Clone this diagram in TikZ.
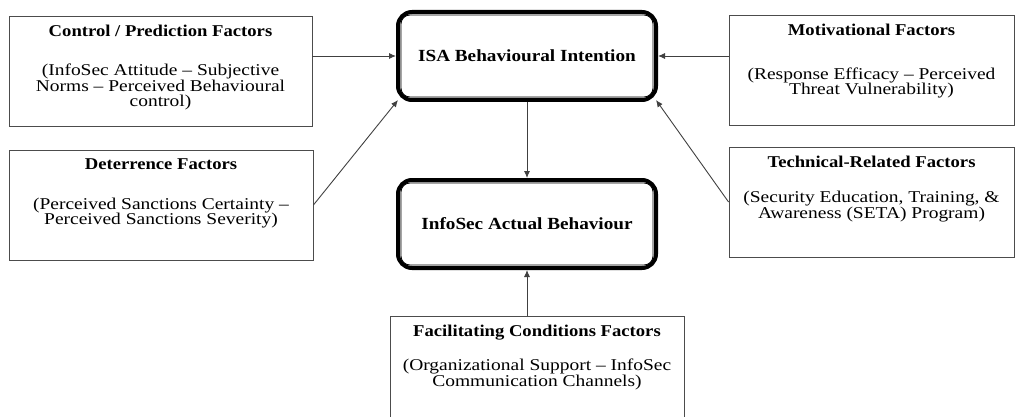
\documentclass[tikz,border=0pt]{standalone}
\usepackage{fontspec}
\setmainfont{Liberation Serif}[FakeStretch=1.18, BoldFeatures={FakeStretch=1.13}]
\usetikzlibrary{positioning}
\usetikzlibrary{arrows.meta}

\tikzset{
  factor/.style={draw=black!70, line width=0.9pt, minimum width=#1, minimum height=110pt, inner sep=0pt},
  factor/.default=300pt,
  factortext/.style={align=center, inner sep=0pt, font=\fontsize{16.5}{15.5}\selectfont},
  central/.style={draw, line width=4pt, rounded corners=14pt, minimum width=258pt, minimum height=88pt,
    font=\fontsize{17}{15}\selectfont\bfseries},
  link/.style={draw=black!75, line width=0.9pt, -{Latex[length=7pt,width=6pt]}}
}

\begin{document}
\begin{tikzpicture}[x=1pt, y=1pt]
    \useasboundingbox (0,0) rectangle (1022,-417);
    \clip (0,0) rectangle (1022,-417);

    % Central constructs
    \node[central] (isa) at (527,-56) {ISA Behavioural Intention};
    \node[central] (act) at (527,-224) {InfoSec Actual Behaviour};
    \foreach \n in {isa,act}
      \draw[line width=0.8pt, rounded corners=9pt]
        ([shift={(5pt,5pt)}]\n.south west) rectangle ([shift={(-5pt,-5pt)}]\n.north east);

    % Factor boxes
    \node[factor=303pt] (ctrl) at (160.5,-71) {};
    \node[factor=285pt] (moti) at (871.5,-70.5) {};
    \node[factor=304pt] (dete) at (161,-205) {};
    \node[factor=285pt] (tech) at (871.5,-202) {};
    \node[factor=294pt, minimum height=130pt] (faci) at (537,-381) {};

    \node[factortext, below=9pt of ctrl.north] (ctrl-t)
      {\textbf{Control / Prediction Factors}\\[24pt]
       (InfoSec Attitude -- Subjective\\ Norms -- Perceived Behavioural\\ control)};
    \node[factortext, below=9pt of moti.north] (moti-t)
      {\textbf{Motivational Factors}\\[28pt]
       (Response Efficacy -- Perceived\\ Threat Vulnerability)};
    \node[factortext, below=9pt of dete.north] (dete-t)
      {\textbf{Deterrence Factors}\\[24pt]
       (Perceived Sanctions Certainty --\\ Perceived Sanctions Severity)};
    \node[factortext, below=9pt of tech.north] (tech-t)
      {\textbf{Technical-Related Factors}\\[20pt]
       (Security Education, Training, \&\\ Awareness (SETA) Program)};
    \node[factortext, below=9pt of faci.north] (faci-t)
      {\textbf{Facilitating Conditions Factors}\\[19pt]
       (Organizational Support -- InfoSec\\ Communication Channels)};

    % Links
    \path[link] (ctrl.east |- isa.west) -- (isa.west);
    \path[link] (moti.west |- isa.east) -- (isa.east);
    \path[link] (dete.east) -- ([shift={(2pt,2pt)}]isa.south west);
    \path[link] (tech.west) -- ([shift={(-2pt,2pt)}]isa.south east);
    \path[link] (isa.south) -- (act.north);
    \path[link] (faci.north -| act.south) -- (act.south);
\end{tikzpicture}
\end{document}
